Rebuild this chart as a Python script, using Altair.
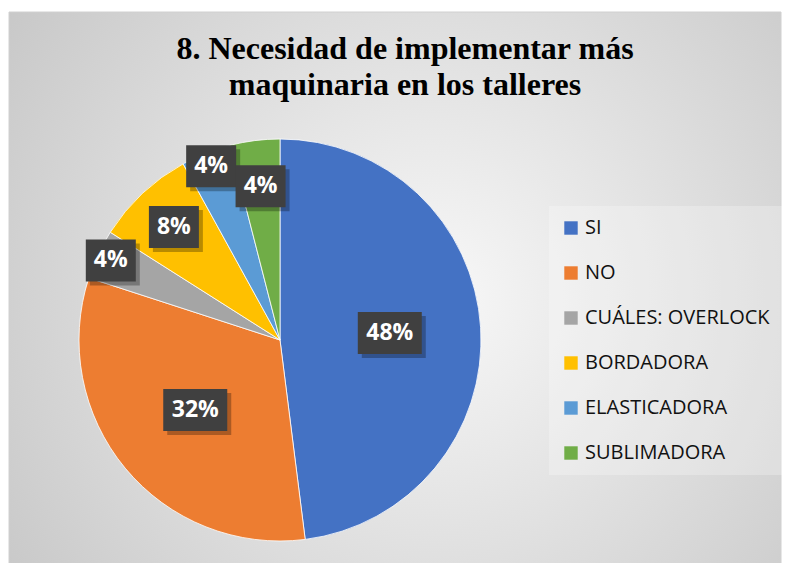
import altair as alt
import pandas as pd

CATEGORIES = ["SI", "NO", "CUÁLES: OVERLOCK", "BORDADORA", "ELASTICADORA", "SUBLIMADORA"]
COUNTS = [12, 8, 1, 2, 1, 1]
PERCENT_LABELS = ["48%", "32%", "4%", "8%", "4%", "4%"]
COLORS = ["#4472C4", "#ED7D31", "#A5A5A5", "#FFC000", "#5B9BD5", "#70AD47"]
TITLE_LINES = ["8. Necesidad de implementar más", "maquinaria en los talleres"]

W, H = 774, 555
CX, CY, R = 272, 332, 201

df = pd.DataFrame({"cat": CATEGORIES, "n": COUNTS, "lbl": PERCENT_LABELS,
                   "idx": list(range(len(CATEGORIES)))})
one = pd.DataFrame({"k": [0]})

bg = alt.Chart(one).mark_rect(
    fill={"gradient": "radial",
          "x1": 0.55, "y1": 0.5, "r1": 0,
          "x2": 0.55, "y2": 0.5, "r2": 0.75,
          "stops": [{"offset": 0, "color": "#f8f8f8"},
                    {"offset": 1, "color": "#c2c2c2"}]},
    stroke="#d0d0d0", strokeWidth=1,
).encode(x=alt.value(1), x2=alt.value(773), y=alt.value(4), y2=alt.value(575))

base = alt.Chart(df)

pie = base.mark_arc(outerRadius=R, stroke="white", strokeWidth=0.8).encode(
    theta=alt.Theta("n:Q", stack=True),
    color=alt.Color("cat:N", scale=alt.Scale(domain=CATEGORIES, range=COLORS),
                    legend=alt.Legend(title=None, orient="none", legendX=541, legendY=198,
                                      symbolType="square", symbolSize=180,
                                      symbolStrokeWidth=0, labelFont="Open Sans",
                                      labelFontSize=20, labelColor="#111111",
                                      labelLimit=400,
                                      rowPadding=25, padding=12, labelOffset=4,
                                      fillColor="rgba(255,255,255,0.25)",
                                      direction="vertical")),
    order=alt.Order("idx:Q"),
    x=alt.value(CX), y=alt.value(CY),
)

lab = base.transform_window(
    cum="sum(n)", sort=[alt.SortField("idx")], frame=[None, 0]
).transform_joinaggregate(total="sum(n)").transform_calculate(
    ang="2*PI*(datum.cum - datum.n/2)/datum.total",
    rr="datum.n/datum.total < 0.1 ? (datum.idx % 2 == 0 ? 187 : 155) : 110",
    lx=f"{CX} + datum.rr*sin(datum.ang)",
    ly=f"{CY} - datum.rr*cos(datum.ang)",
    hw="(22 + 14*length(datum.lbl))/2",
    bx1="datum.lx - datum.hw",
    bx2="datum.lx + datum.hw",
    by1="datum.ly - 21",
    by2="datum.ly + 21",
    sx1="datum.bx1 + 4",
    sx2="datum.bx2 + 4",
    sy1="datum.by1 + 4",
    sy2="datum.by2 + 4",
)

shadow = lab.mark_rect(fill="black", opacity=0.28).encode(
    x=alt.X("sx1:Q", scale=None), x2="sx2:Q",
    y=alt.Y("sy1:Q", scale=None), y2="sy2:Q",
)
boxes = lab.mark_rect(fill="#404040").encode(
    x=alt.X("bx1:Q", scale=None), x2="bx2:Q",
    y=alt.Y("by1:Q", scale=None), y2="by2:Q",
)
texts = lab.mark_text(font="Open Sans", fontWeight="bold", fontSize=23, color="white",
                      align="center", baseline="middle").encode(
    x=alt.X("lx:Q", scale=None), y=alt.Y("ly:Q", scale=None), text="lbl:N",
)

title = alt.Chart(one).mark_text(
    text=TITLE_LINES, font="Liberation Serif", fontSize=32, fontWeight="bold",
    color="black", lineHeight=36, align="center", baseline="alphabetic",
).encode(x=alt.value(397), y=alt.value(51))

chart = alt.layer(bg, pie, shadow, boxes, texts, title).properties(
    width=W, height=H, padding=0, background="white",
    autosize=alt.AutoSizeParams(type="none"),
).configure_view(stroke=None)

chart.save("out.html", embed_options={"renderer": "svg", "actions": False})
